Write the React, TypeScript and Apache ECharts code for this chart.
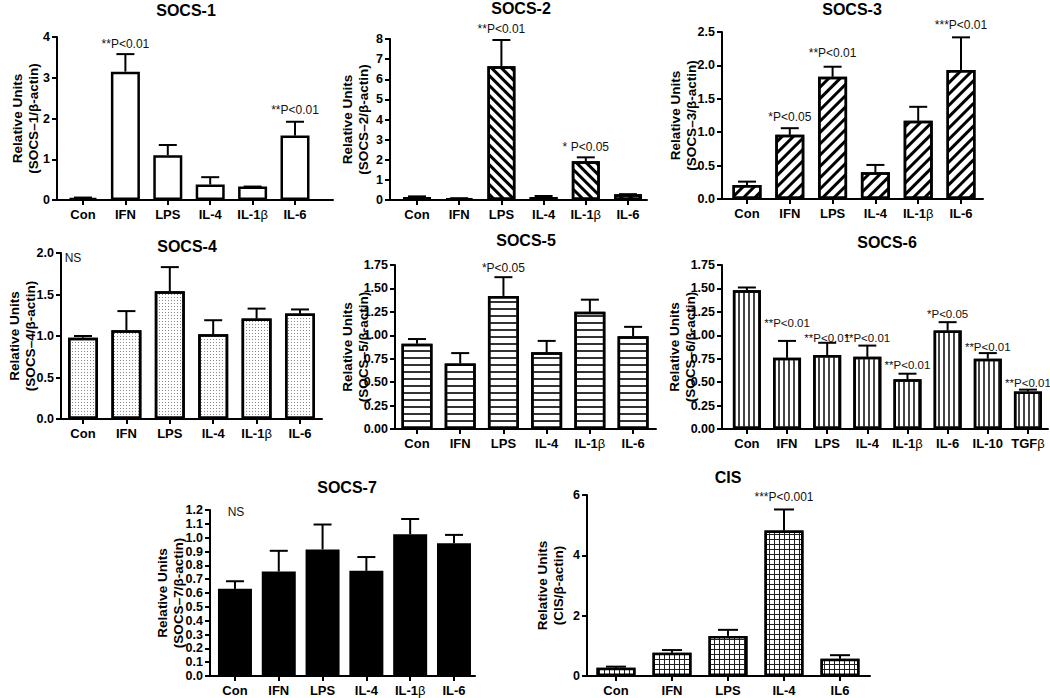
import React, { useEffect, useRef } from 'react';
import * as echarts from 'echarts';

const FONT = '"Liberation Sans", Arial, Helvetica, sans-serif';

// ---------- categories ----------
const cats6 = ['Con', 'IFN', 'LPS', 'IL-4', 'IL-1β', 'IL-6'];
const catsSocs6 = ['Con', 'IFN', 'LPS', 'IL-4', 'IL-1β', 'IL-6', 'IL-10', 'TGFβ'];
const catsCis = ['Con', 'IFN', 'LPS', 'IL-4', 'IL6'];

// ---------- values (mean) and SEM (upper error) ----------
const socs1Mean = [0.05, 3.15, 1.1, 0.38, 0.33, 1.58];
const socs1Sem = [0.01, 0.43, 0.25, 0.18, 0.0, 0.34];
const socs2Mean = [0.15, 0.08, 6.65, 0.15, 1.93, 0.28];
const socs2Sem = [0.03, 0.01, 1.3, 0.05, 0.19, 0.01];
const socs3Mean = [0.21, 0.96, 1.83, 0.4, 1.17, 1.93];
const socs3Sem = [0.05, 0.1, 0.15, 0.11, 0.21, 0.49];
const socs4Mean = [0.98, 1.07, 1.54, 1.02, 1.21, 1.27];
const socs4Sem = [0.02, 0.23, 0.29, 0.17, 0.12, 0.05];
const socs5Mean = [0.91, 0.7, 1.42, 0.82, 1.25, 0.99];
const socs5Sem = [0.05, 0.11, 0.2, 0.12, 0.13, 0.1];
const socs6Mean = [1.48, 0.76, 0.79, 0.77, 0.53, 1.05, 0.75, 0.4];
const socs6Sem = [0.03, 0.18, 0.13, 0.12, 0.06, 0.09, 0.06, 0.02];
const socs7Mean = [0.63, 0.755, 0.915, 0.76, 1.025, 0.96];
const socs7Sem = [0.055, 0.15, 0.18, 0.1, 0.11, 0.06];
const cisMean = [0.27, 0.77, 1.33, 4.82, 0.57];
const cisSem = [0.04, 0.09, 0.2, 0.7, 0.12];

// ---------- significance labels: [category index, y value, text] ----------
const socs1Sig: [number, number, string][] = [[1, 3.83, '**P<0.01'], [5, 2.21, '**P<0.01']];
const socs2Sig: [number, number, string][] = [[2, 8.5, '**P<0.01'], [4, 2.64, '* P<0.05']];
const socs3Sig: [number, number, string][] = [[1, 1.23, '*P<0.05'], [2, 2.19, '**P<0.01'], [5, 2.6, '***P<0.01']];
const socs4Sig: [number, number, string][] = [];
const socs5Sig: [number, number, string][] = [[2, 1.72, '*P<0.05']];
const socs6Sig: [number, number, string][] = [
  [1, 1.13, '**P<0.01'], [2, 0.97, '**P<0.01'], [3, 0.97, '**P<0.01'], [4, 0.68, '**P<0.01'],
  [5, 1.23, '*P<0.05'], [6, 0.875, '**P<0.01'], [7, 0.49, '**P<0.01'],
];
const socs7Sig: [number, number, string][] = [];
const cisSig: [number, number, string][] = [[3, 5.93, '***P<0.001']];

// ---------- axis ticks ----------
const yMaxes = [4, 8, 2.5, 2.0, 1.75, 1.75, 1.2, 6];
const ySteps = [1, 1, 0.5, 0.5, 0.25, 0.25, 0.1, 2];
const yDecimals = [0, 0, 1, 1, 2, 2, 1, 0];

const titles = ['SOCS-1', 'SOCS-2', 'SOCS-3', 'SOCS-4', 'SOCS-5', 'SOCS-6', 'SOCS-7', 'CIS'];
const yNames = [
  '(SOCS–1/β-actin)', '(SOCS–2/β-actin)', '(SOCS–3/β-actin)', '(SOCS–4/β-actin)',
  '(SOCS–5/β-actin)', '(SOCS–6/β-actin)', '(SOCS–7/β-actin)', '(CIS/β-actin)',
];

const catsList = [cats6, cats6, cats6, cats6, cats6, catsSocs6, cats6, catsCis];
const meansList = [socs1Mean, socs2Mean, socs3Mean, socs4Mean, socs5Mean, socs6Mean, socs7Mean, cisMean];
const semList = [socs1Sem, socs2Sem, socs3Sem, socs4Sem, socs5Sem, socs6Sem, socs7Sem, cisSem];
const sigList = [socs1Sig, socs2Sig, socs3Sig, socs4Sig, socs5Sig, socs6Sig, socs7Sig, cisSig];

// ---------- layout / style (not data) ----------
const layouts = [
  { grid: { left: 57, top: 37, width: 276, height: 163 }, xr: [-0.613, 5.896], bw: 29, cap: 18, title: [186, 10], gap: 16, sigFont: 12 },
  { grid: { left: 390, top: 39, width: 257, height: 161 }, xr: [-0.64, 5.45], bw: 28, cap: 18, title: [521, 8], gap: 19, sigFont: 12 },
  { grid: { left: 722, top: 32, width: 261, height: 167 }, xr: [-0.584, 5.514], bw: 29, cap: 18, title: [852, 9], gap: 23, sigFont: 12 },
  { grid: { left: 61, top: 253, width: 261, height: 166 }, xr: [-0.507, 5.507], bw: 30, cap: 18, title: [187, 246], gap: 23, sigFont: 12 },
  { grid: { left: 395, top: 265, width: 261, height: 164 }, xr: [-0.509, 5.53], bw: 31, cap: 18, title: [526, 240], gap: 24, sigFont: 12 },
  { grid: { left: 722, top: 265, width: 326, height: 164 }, xr: [-0.62, 7.5], bw: 28, cap: 18, title: [887, 242], gap: 24, sigFont: 11.5 },
  { grid: { left: 210, top: 510, width: 265, height: 166 }, xr: [-0.57, 5.48], bw: 34, cap: 18, title: [347, 487], gap: 24, sigFont: 12 },
  { grid: { left: 587, top: 495, width: 283, height: 181 }, xr: [-0.518, 4.536], bw: 39, cap: 20, title: [728, 477], gap: 21, sigFont: 12 },
];

const barColors = ['#fff', '#fff', '#fff', '#fff', '#fff', '#fff', '#000', '#222'];
const decals: any[] = [
  null,
  { symbol: 'rect', symbolSize: 1, dashArrayX: [1, 0], dashArrayY: [2.5, 4], rotation: Math.PI / 4, color: '#000' },
  { symbol: 'rect', symbolSize: 1, dashArrayX: [1, 0], dashArrayY: [2.5, 4.5], rotation: -Math.PI / 4, color: '#000' },
  { symbol: 'rect', symbolSize: 1, dashArrayX: [1, 2], dashArrayY: [1, 2], color: '#888' },
  { symbol: 'rect', symbolSize: 1, dashArrayX: [1, 0], dashArrayY: [1.5, 4.2], color: '#333' },
  { symbol: 'rect', symbolSize: 1, dashArrayX: [1, 0], dashArrayY: [1.3, 3], rotation: Math.PI / 2, color: '#444' },
  null,
  { symbol: 'rect', symbolSize: 1, dashArrayX: [3.6, 1], dashArrayY: [3.6, 1], color: '#fff' },
];

const nsLabels: [number, number][] = [[73, 258], [236, 512]];

function buildOption() {
  const grids: any[] = [];
  const xAxes: any[] = [];
  const yAxes: any[] = [];
  const series: any[] = [];
  const graphics: any[] = [];

  layouts.forEach((L, i) => {
    const cats = catsList[i];
    const idx = cats.map((_, k) => k);
    grids.push({ ...L.grid, containLabel: false, outerBoundsMode: 'none' });
    xAxes.push({
      type: 'value',
      gridIndex: i,
      min: L.xr[0],
      max: L.xr[1],
      splitLine: { show: false },
      axisLine: { show: true, onZero: false, lineStyle: { color: '#000', width: 2 } },
      axisTick: { show: true, customValues: idx, length: 5, lineStyle: { color: '#000', width: 2 } },
      axisLabel: {
        show: true,
        customValues: idx,
        margin: 8,
        color: '#000',
        fontFamily: FONT,
        fontWeight: 'bold',
        fontSize: 13,
        formatter: (v: number) => {
          const s = cats[Math.round(v)] ?? '';
          return s.replace('β', '{g|β}');
        },
        rich: { g: { fontWeight: 'normal', fontSize: 13, fontFamily: FONT, color: '#000' } },
      },
    });
    yAxes.push({
      type: 'value',
      gridIndex: i,
      min: 0,
      max: yMaxes[i],
      interval: ySteps[i],
      splitLine: { show: false },
      axisLine: { show: true, onZero: false, lineStyle: { color: '#000', width: 2 } },
      axisTick: { show: true, length: 5, lineStyle: { color: '#000', width: 2 } },
      axisLabel: {
        margin: 7,
        color: '#000',
        fontFamily: FONT,
        fontWeight: 'bold',
        fontSize: 12.5,
        formatter: (v: number) => v.toFixed(yDecimals[i]),
      },
      name: 'Relative Units\n' + yNames[i],
      nameLocation: 'middle',
      nameGap: L.gap,
      nameMoveOverlap: false,
      nameTextStyle: { color: '#000', fontFamily: FONT, fontWeight: 'bold', fontSize: 13.5, lineHeight: 16 },
    });

    const mean = meansList[i];
    const sem = semList[i];
    const itemStyle: any = { color: barColors[i], borderColor: '#000', borderWidth: 2.5 };
    if (decals[i]) itemStyle.decal = decals[i];
    series.push({
      type: 'bar',
      xAxisIndex: i,
      yAxisIndex: i,
      barWidth: L.bw,
      data: mean.map((m, k) => [k, m]),
      itemStyle,
      silent: true,
      z: 2,
    });
    const cap = L.cap;
    series.push({
      type: 'custom',
      xAxisIndex: i,
      yAxisIndex: i,
      z: 3,
      silent: true,
      data: mean.map((m, k) => [k, m, m + sem[k]]),
      renderItem: (_p: any, api: any) => {
        const x = api.value(0);
        const base = api.coord([x, api.value(1)]);
        const top = api.coord([x, api.value(2)]);
        return {
          type: 'group',
          children: [
            { type: 'line', shape: { x1: base[0], y1: base[1], x2: top[0], y2: top[1] }, style: { stroke: '#000', lineWidth: 2 } },
            { type: 'line', shape: { x1: top[0] - cap / 2, y1: top[1], x2: top[0] + cap / 2, y2: top[1] }, style: { stroke: '#000', lineWidth: 2 } },
          ],
        };
      },
    });
    const sig = sigList[i];
    const sigFont = L.sigFont;
    if (sig.length) {
      series.push({
        type: 'custom',
        xAxisIndex: i,
        yAxisIndex: i,
        z: 5,
        silent: true,
        clip: false,
        data: sig.map((s) => [s[0], s[1]]),
        renderItem: (params: any, api: any) => {
          const p = api.coord([api.value(0), api.value(1)]);
          return {
            type: 'text',
            x: p[0],
            y: p[1],
            style: {
              text: sig[params.dataIndex][2],
              align: 'center',
              verticalAlign: 'middle',
              font: `${sigFont}px ${FONT}`,
              fill: '#111',
            },
          };
        },
      });
    }
    graphics.push({
      type: 'text',
      x: L.title[0],
      y: L.title[1],
      silent: true,
      style: {
        text: titles[i],
        align: 'center',
        verticalAlign: 'middle',
        textAlign: 'center',
        textVerticalAlign: 'middle',
        font: `bold 16px ${FONT}`,
        fill: '#000',
      },
    });
  });

  nsLabels.forEach((p) => {
    graphics.push({
      type: 'text',
      x: p[0],
      y: p[1],
      silent: true,
      style: {
        text: 'NS',
        align: 'center',
        verticalAlign: 'middle',
        textAlign: 'center',
        textVerticalAlign: 'middle',
        font: `12px ${FONT}`,
        fill: '#111',
      },
    });
  });

  return {
    animation: false,
    backgroundColor: '#fff',
    grid: grids,
    xAxis: xAxes,
    yAxis: yAxes,
    series,
    graphic: { elements: graphics },
  };
}

export default function App() {
  const ref = useRef<HTMLDivElement>(null);
  useEffect(() => {
    if (!ref.current) return;
    const chart = echarts.init(ref.current, undefined, { renderer: 'svg' });
    chart.setOption(buildOption() as any);
    return () => chart.dispose();
  }, []);
  return (
    <div
      ref={ref}
      style={{ position: 'absolute', left: 0, top: 0, width: 1050, height: 698, background: '#fff' }}
    />
  );
}
